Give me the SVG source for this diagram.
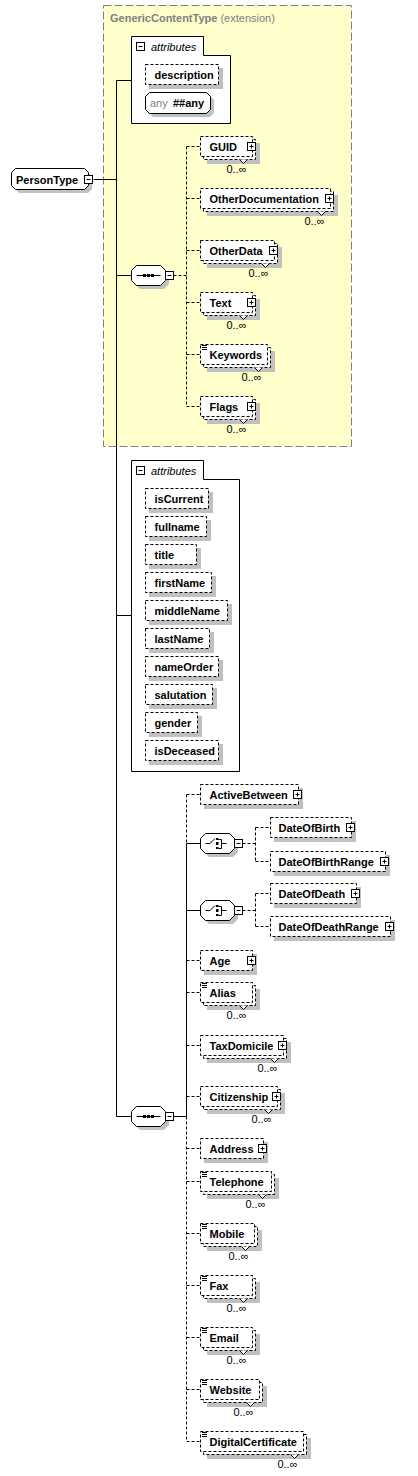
<svg xmlns="http://www.w3.org/2000/svg" xmlns:xlink="http://www.w3.org/1999/xlink" width="418" height="1476" viewBox="0 0 418 1476">
<style>
.bx{fill:#fff;stroke:#000;stroke-dasharray:3,2}
.sh{fill:#c0c0c0;stroke:none}
.ln{stroke:#000;fill:none}
.dl{stroke:#000;fill:none;stroke-dasharray:3,2}
.nt{fill:#fff;stroke:#000}
.so{fill:#fff;stroke:#000}
.lbl{font-family:"Liberation Sans",Arial,sans-serif;font-size:11px;font-weight:bold;fill:#000}
.occ{font-family:"Liberation Sans",Arial,sans-serif;font-size:11px;fill:#000;text-anchor:end}
.it{font-family:"Liberation Sans",Arial,sans-serif;font-size:11px;font-style:italic;fill:#000}
.hdr{font-family:"Liberation Sans",Arial,sans-serif;font-size:11px;fill:#808080}
</style>
<defs>
<g id="plus"><rect x="0" y="0" width="8" height="8" fill="#fff" stroke="#000"/><path d="M2,4H6M4,2V6" stroke="#000"/></g>
<g id="minus"><rect x="0" y="0" width="8" height="8" fill="#fff" stroke="#000"/><path d="M2,4H6" stroke="#000"/></g>
<path id="simp" d="M1.5,1H6.5M1.5,3H6.5M1.5,5H6.5" stroke="#000" fill="none"/>
<path id="oct" d="M5,0H29L34,5V15L29,20H5L0,15V5Z"/>
<g id="seqsym"><path d="M5,10H29" stroke="#000"/><rect x="11.5" y="8.5" width="3" height="3" fill="#000"/><rect x="15.5" y="8.5" width="3" height="3" fill="#000"/><rect x="19.5" y="8.5" width="3" height="3" fill="#000"/></g>
<g id="chsym"><path d="M5,10H9.5L14.5,5M18,6H21V15H18M21,10H26" stroke="#000" fill="none"/><rect x="15.5" y="4.5" width="2.5" height="2" fill="#000"/><rect x="15.5" y="8.5" width="2.5" height="3" fill="#000"/><rect x="15.5" y="13.5" width="2.5" height="2" fill="#000"/></g>
</defs>

<g id="extension">
<rect x="103.5" y="5.5" width="248" height="441" fill="#ffffcc" stroke="#808080" stroke-dasharray="8,3"/>
<text class="hdr" x="110" y="22"><tspan font-weight="bold">GenericContentType</tspan> (extension)</text>
</g>

<g id="connectors">
<path class="ln" d="M116.5,80.5V1116.5M116.5,80.5H131.5M93.5,179.5H116.5M116.5,275.5H131.5M116.5,615.5H131.5M116.5,1116.5H131.5"/>
<path class="dl" d="M173.5,275.5H186.5M186.5,146.5V406.5M186.5,146.5H200.5M186.5,198.5H200.5M186.5,250.5H200.5M186.5,302.5H200.5M186.5,354.5H200.5M186.5,406.5H200.5"/>
<path class="dl" d="M186.5,794.5V843.5M186.5,1116.5V1441.5M186.5,794.5H200.5M186.5,960.5H200.5M186.5,992.5H200.5M186.5,1045.5H200.5M186.5,1096.5H200.5M186.5,1148.5H200.5M186.5,1181.5H200.5M186.5,1233.5H200.5M186.5,1285.5H200.5M186.5,1337.5H200.5M186.5,1389.5H200.5M186.5,1441.5H200.5"/>
<path class="ln" d="M186.5,843.5V1116.5M186.5,843.5H200.5M186.5,910.5H200.5M173.5,1116.5H186.5"/>
<path class="dl" d="M242.5,843.5H255.5M255.5,827.5V861.5M255.5,827.5H270.5M255.5,861.5H270.5M242.5,910.5H255.5M255.5,893.5V926.5M255.5,893.5H270.5M255.5,926.5H270.5"/>
</g>

<g id="n-PersonType">
<path class="sh" d="M19,172H88L92,176V189L88,193H19L15,189V176Z"/>
<path class="so" d="M15.5,168.5H84.5L88.5,172.5V185.5L84.5,189.5H15.5L11.5,185.5V172.5Z"/>
<text class="lbl" x="16" y="183.5">PersonType</text>
<use href="#minus" x="84.5" y="175.5"/>
</g>

<g id="n-attributes1">
<path class="so" d="M131.5,36.5H203.5V55.5H230.5V123.5H131.5Z"/>
<use href="#minus" x="136.5" y="42.5"/>
<text class="it" x="151" y="51">attributes</text>
</g>
<g id="n-description">
<rect class="sh" x="149" y="68" width="74" height="21"/>
<rect class="bx" x="145.5" y="64.5" width="73" height="20"/>
<text class="lbl" x="154.5" y="78.5">description</text>
</g>
<g id="n-any">
<path class="sh" d="M153,96H210L214,100V113L210,117H153L149,113V100Z"/>
<path class="so" d="M149.5,92.5H206.5L210.5,96.5V109.5L206.5,113.5H149.5L145.5,109.5V96.5Z"/>
<text class="hdr" x="150" y="107">any</text>
<text class="lbl" x="173" y="107">##any</text>
</g>

<g id="n-sequence1">
<use href="#oct" class="sh" x="135" y="269"/>
<use href="#oct" class="so" x="131.5" y="265.5"/>
<use href="#seqsym" x="131.5" y="265.5"/>
<use href="#minus" x="165.5" y="271.5"/>
</g>

<g id="n-GUID">
<rect class="sh" x="207" y="143" width="53" height="21"/>
<rect class="bx" x="203.5" y="139.5" width="52" height="20"/>
<rect class="bx" x="200.5" y="136.5" width="52" height="20"/>
<path class="nt" d="M239.5,159.5L243.5,163.5L247.5,159.5"/>
<text class="lbl" x="209.5" y="150.5">GUID</text>
<use href="#plus" x="247.5" y="142.5"/>
<text class="occ" x="246.5" y="172.5">0..∞</text>
</g>
<g id="n-OtherDocumentation">
<rect class="sh" x="207" y="195" width="131" height="21"/>
<rect class="bx" x="203.5" y="191.5" width="130" height="20"/>
<rect class="bx" x="200.5" y="188.5" width="130" height="20"/>
<path class="nt" d="M317.5,211.5L321.5,215.5L325.5,211.5"/>
<text class="lbl" x="209.5" y="202.5">OtherDocumentation</text>
<use href="#plus" x="325.5" y="194.5"/>
<text class="occ" x="324.5" y="224.5">0..∞</text>
</g>
<g id="n-OtherData">
<rect class="sh" x="207" y="247" width="75" height="21"/>
<rect class="bx" x="203.5" y="243.5" width="74" height="20"/>
<rect class="bx" x="200.5" y="240.5" width="74" height="20"/>
<path class="nt" d="M261.5,263.5L265.5,267.5L269.5,263.5"/>
<text class="lbl" x="209.5" y="254.5">OtherData</text>
<use href="#plus" x="269.5" y="246.5"/>
<text class="occ" x="268.5" y="276.5">0..∞</text>
</g>
<g id="n-Text">
<rect class="sh" x="207" y="299" width="53" height="21"/>
<rect class="bx" x="203.5" y="295.5" width="52" height="20"/>
<rect class="bx" x="200.5" y="292.5" width="52" height="20"/>
<path class="nt" d="M239.5,315.5L243.5,319.5L247.5,315.5"/>
<text class="lbl" x="209.5" y="306.5">Text</text>
<use href="#plus" x="247.5" y="298.5"/>
<text class="occ" x="246.5" y="328.5">0..∞</text>
</g>
<g id="n-Keywords">
<rect class="sh" x="207" y="351" width="68" height="21"/>
<rect class="bx" x="203.5" y="347.5" width="67" height="20"/>
<rect class="bx" x="200.5" y="344.5" width="67" height="20"/>
<path class="nt" d="M254.5,367.5L258.5,371.5L262.5,367.5"/>
<use href="#simp" x="200.5" y="344.5"/>
<text class="lbl" x="209.5" y="358.5">Keywords</text>
<text class="occ" x="261.5" y="380.5">0..∞</text>
</g>
<g id="n-Flags">
<rect class="sh" x="207" y="403" width="53" height="21"/>
<rect class="bx" x="203.5" y="399.5" width="52" height="20"/>
<rect class="bx" x="200.5" y="396.5" width="52" height="20"/>
<path class="nt" d="M239.5,419.5L243.5,423.5L247.5,419.5"/>
<text class="lbl" x="209.5" y="410.5">Flags</text>
<use href="#plus" x="247.5" y="402.5"/>
<text class="occ" x="246.5" y="432.5">0..∞</text>
</g>

<g id="n-attributes2">
<path class="so" d="M131.5,460.5H203.5V479.5H239.5V771.5H131.5Z"/>
<use href="#minus" x="136.5" y="466.5"/>
<text class="it" x="151" y="475">attributes</text>
</g>
<g id="n-isCurrent"><rect class="sh" x="149" y="492" width="64" height="21"/><rect class="bx" x="145.5" y="488.5" width="63" height="20"/><text class="lbl" x="154.5" y="502.5">isCurrent</text></g>
<g id="n-fullname"><rect class="sh" x="149" y="520" width="62" height="21"/><rect class="bx" x="145.5" y="516.5" width="61" height="20"/><text class="lbl" x="154.5" y="530.5">fullname</text></g>
<g id="n-title"><rect class="sh" x="149" y="548" width="52" height="21"/><rect class="bx" x="145.5" y="544.5" width="51" height="20"/><text class="lbl" x="154.5" y="558.5">title</text></g>
<g id="n-firstName"><rect class="sh" x="149" y="576" width="67" height="21"/><rect class="bx" x="145.5" y="572.5" width="66" height="20"/><text class="lbl" x="154.5" y="586.5">firstName</text></g>
<g id="n-middleName"><rect class="sh" x="149" y="604" width="83" height="21"/><rect class="bx" x="145.5" y="600.5" width="82" height="20"/><text class="lbl" x="154.5" y="614.5">middleName</text></g>
<g id="n-lastName"><rect class="sh" x="149" y="632" width="65" height="21"/><rect class="bx" x="145.5" y="628.5" width="64" height="20"/><text class="lbl" x="154.5" y="642.5">lastName</text></g>
<g id="n-nameOrder"><rect class="sh" x="149" y="660" width="74" height="21"/><rect class="bx" x="145.5" y="656.5" width="73" height="20"/><text class="lbl" x="154.5" y="670.5">nameOrder</text></g>
<g id="n-salutation"><rect class="sh" x="149" y="688" width="68" height="21"/><rect class="bx" x="145.5" y="684.5" width="67" height="20"/><text class="lbl" x="154.5" y="698.5">salutation</text></g>
<g id="n-gender"><rect class="sh" x="149" y="716" width="53" height="21"/><rect class="bx" x="145.5" y="712.5" width="52" height="20"/><text class="lbl" x="154.5" y="726.5">gender</text></g>
<g id="n-isDeceased"><rect class="sh" x="149" y="744" width="74" height="21"/><rect class="bx" x="145.5" y="740.5" width="73" height="20"/><text class="lbl" x="154.5" y="754.5">isDeceased</text></g>

<g id="n-sequence2">
<use href="#oct" class="sh" x="135" y="1110"/>
<use href="#oct" class="so" x="131.5" y="1106.5"/>
<use href="#seqsym" x="131.5" y="1106.5"/>
<use href="#minus" x="165.5" y="1112.5"/>
</g>

<g id="n-ActiveBetween">
<rect class="sh" x="204" y="788" width="99" height="21"/>
<rect class="bx" x="200.5" y="784.5" width="98" height="20"/>
<text class="lbl" x="209.5" y="798.5">ActiveBetween</text>
<use href="#plus" x="293.5" y="790.5"/>
</g>

<g id="n-choice1">
<use href="#oct" class="sh" x="204" y="837"/>
<use href="#oct" class="so" x="200.5" y="833.5"/>
<use href="#chsym" x="200.5" y="833.5"/>
<use href="#minus" x="234.5" y="839.5"/>
</g>
<g id="n-DateOfBirth">
<rect class="sh" x="274" y="821" width="82" height="21"/>
<rect class="bx" x="270.5" y="817.5" width="81" height="20"/>
<text class="lbl" x="278.5" y="831.5">DateOfBirth</text>
<use href="#plus" x="346.5" y="823.5"/>
</g>
<g id="n-DateOfBirthRange">
<rect class="sh" x="274" y="855" width="116" height="21"/>
<rect class="bx" x="270.5" y="851.5" width="115" height="20"/>
<text class="lbl" x="278.5" y="865.5">DateOfBirthRange</text>
<use href="#plus" x="380.5" y="857.5"/>
</g>

<g id="n-choice2">
<use href="#oct" class="sh" x="204" y="904"/>
<use href="#oct" class="so" x="200.5" y="900.5"/>
<use href="#chsym" x="200.5" y="900.5"/>
<use href="#minus" x="234.5" y="906.5"/>
</g>
<g id="n-DateOfDeath">
<rect class="sh" x="274" y="887" width="87" height="21"/>
<rect class="bx" x="270.5" y="883.5" width="86" height="20"/>
<text class="lbl" x="278.5" y="897.5">DateOfDeath</text>
<use href="#plus" x="351.5" y="889.5"/>
</g>
<g id="n-DateOfDeathRange">
<rect class="sh" x="274" y="920" width="121" height="21"/>
<rect class="bx" x="270.5" y="916.5" width="120" height="20"/>
<text class="lbl" x="278.5" y="930.5">DateOfDeathRange</text>
<use href="#plus" x="385.5" y="922.5"/>
</g>

<g id="n-Age">
<rect class="sh" x="204" y="954" width="53" height="21"/>
<rect class="bx" x="200.5" y="950.5" width="52" height="20"/>
<text class="lbl" x="209.5" y="964.5">Age</text>
<use href="#plus" x="247.5" y="956.5"/>
</g>
<g id="n-Alias">
<rect class="sh" x="207" y="989" width="53" height="21"/>
<rect class="bx" x="203.5" y="985.5" width="52" height="20"/>
<rect class="bx" x="200.5" y="982.5" width="52" height="20"/>
<path class="nt" d="M239.5,1005.5L243.5,1009.5L247.5,1005.5"/>
<use href="#simp" x="200.5" y="982.5"/>
<text class="lbl" x="209.5" y="996.5">Alias</text>
<text class="occ" x="246.5" y="1018.5">0..∞</text>
</g>
<g id="n-TaxDomicile">
<rect class="sh" x="207" y="1042" width="84" height="21"/>
<rect class="bx" x="203.5" y="1038.5" width="83" height="20"/>
<rect class="bx" x="200.5" y="1035.5" width="83" height="20"/>
<path class="nt" d="M270.5,1058.5L274.5,1062.5L278.5,1058.5"/>
<text class="lbl" x="209.5" y="1049.5">TaxDomicile</text>
<use href="#plus" x="278.5" y="1041.5"/>
<text class="occ" x="277.5" y="1071.5">0..∞</text>
</g>
<g id="n-Citizenship">
<rect class="sh" x="207" y="1093" width="78" height="21"/>
<rect class="bx" x="203.5" y="1089.5" width="77" height="20"/>
<rect class="bx" x="200.5" y="1086.5" width="77" height="20"/>
<path class="nt" d="M264.5,1109.5L268.5,1113.5L272.5,1109.5"/>
<text class="lbl" x="209.5" y="1100.5">Citizenship</text>
<use href="#plus" x="272.5" y="1092.5"/>
<text class="occ" x="271.5" y="1122.5">0..∞</text>
</g>
<g id="n-Address">
<rect class="sh" x="204" y="1142" width="64" height="21"/>
<rect class="bx" x="200.5" y="1138.5" width="63" height="20"/>
<text class="lbl" x="209.5" y="1152.5">Address</text>
<use href="#plus" x="258.5" y="1144.5"/>
</g>
<g id="n-Telephone">
<rect class="sh" x="207" y="1178" width="72" height="21"/>
<rect class="bx" x="203.5" y="1174.5" width="71" height="20"/>
<rect class="bx" x="200.5" y="1171.5" width="71" height="20"/>
<path class="nt" d="M258.5,1194.5L262.5,1198.5L266.5,1194.5"/>
<use href="#simp" x="200.5" y="1171.5"/>
<text class="lbl" x="209.5" y="1185.5">Telephone</text>
<text class="occ" x="265.5" y="1207.5">0..∞</text>
</g>
<g id="n-Mobile">
<rect class="sh" x="207" y="1230" width="55" height="21"/>
<rect class="bx" x="203.5" y="1226.5" width="54" height="20"/>
<rect class="bx" x="200.5" y="1223.5" width="54" height="20"/>
<path class="nt" d="M241.5,1246.5L245.5,1250.5L249.5,1246.5"/>
<use href="#simp" x="200.5" y="1223.5"/>
<text class="lbl" x="209.5" y="1237.5">Mobile</text>
<text class="occ" x="248.5" y="1259.5">0..∞</text>
</g>
<g id="n-Fax">
<rect class="sh" x="207" y="1282" width="53" height="21"/>
<rect class="bx" x="203.5" y="1278.5" width="52" height="20"/>
<rect class="bx" x="200.5" y="1275.5" width="52" height="20"/>
<path class="nt" d="M239.5,1298.5L243.5,1302.5L247.5,1298.5"/>
<use href="#simp" x="200.5" y="1275.5"/>
<text class="lbl" x="209.5" y="1289.5">Fax</text>
<text class="occ" x="246.5" y="1311.5">0..∞</text>
</g>
<g id="n-Email">
<rect class="sh" x="207" y="1334" width="53" height="21"/>
<rect class="bx" x="203.5" y="1330.5" width="52" height="20"/>
<rect class="bx" x="200.5" y="1327.5" width="52" height="20"/>
<path class="nt" d="M239.5,1350.5L243.5,1354.5L247.5,1350.5"/>
<use href="#simp" x="200.5" y="1327.5"/>
<text class="lbl" x="209.5" y="1341.5">Email</text>
<text class="occ" x="246.5" y="1363.5">0..∞</text>
</g>
<g id="n-Website">
<rect class="sh" x="207" y="1386" width="60" height="21"/>
<rect class="bx" x="203.5" y="1382.5" width="59" height="20"/>
<rect class="bx" x="200.5" y="1379.5" width="59" height="20"/>
<path class="nt" d="M246.5,1402.5L250.5,1406.5L254.5,1402.5"/>
<use href="#simp" x="200.5" y="1379.5"/>
<text class="lbl" x="209.5" y="1393.5">Website</text>
<text class="occ" x="253.5" y="1415.5">0..∞</text>
</g>
<g id="n-DigitalCertificate">
<rect class="sh" x="207" y="1438" width="104" height="21"/>
<rect class="bx" x="203.5" y="1434.5" width="103" height="20"/>
<rect class="bx" x="200.5" y="1431.5" width="103" height="20"/>
<path class="nt" d="M290.5,1454.5L294.5,1458.5L298.5,1454.5"/>
<use href="#simp" x="200.5" y="1431.5"/>
<text class="lbl" x="209.5" y="1445.5">DigitalCertificate</text>
<text class="occ" x="297.5" y="1467.5">0..∞</text>
</g>
</svg>
